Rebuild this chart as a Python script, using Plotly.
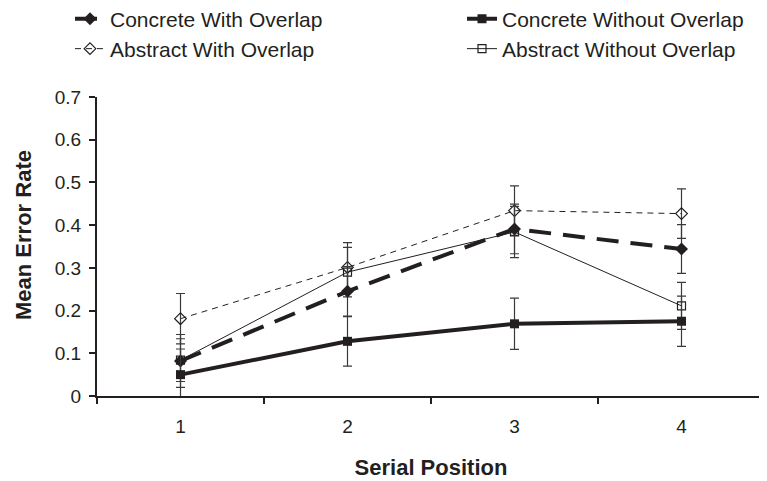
import plotly.graph_objects as go

positions = ["1", "2", "3", "4"]

concrete_with = [0.082, 0.245, 0.391, 0.344]
concrete_with_err = [0.062, 0.058, 0.058, 0.057]

concrete_without = [0.050, 0.128, 0.169, 0.175]
concrete_without_err = [0.060, 0.058, 0.060, 0.059]

abstract_with = [0.181, 0.301, 0.434, 0.427]
abstract_with_err = [0.059, 0.058, 0.058, 0.058]

abstract_without = [0.084, 0.290, 0.384, 0.211]
abstract_without_err = [0.050, 0.058, 0.060, 0.055]

y_ticks = [0, 0.1, 0.2, 0.3, 0.4, 0.5, 0.6, 0.7]

INK = "#231f20"
FONT = "Liberation Sans, Arial, sans-serif"
ERR = dict(type="data", visible=True, color="#3a3a3a", thickness=1.2, width=4.5)

# The page body adds an 8 px offset, so the figure is 8 px smaller than the window.
W, H = 759, 473

fig = go.Figure()

fig.add_trace(go.Scatter(
    x=positions, y=abstract_with, name="Abstract With Overlap", mode="lines+markers",
    line=dict(color=INK, width=1, dash="6px,5px"),
    marker=dict(symbol="diamond-open", size=9, color=INK, line=dict(width=1.2, color=INK)),
    error_y=dict(array=abstract_with_err, **ERR), legend="legend4", showlegend=True))

fig.add_trace(go.Scatter(
    x=positions, y=abstract_without, name="Abstract Without Overlap", mode="lines+markers",
    line=dict(color=INK, width=1),
    marker=dict(symbol="square-open", size=8, color=INK, line=dict(width=1.2, color=INK)),
    error_y=dict(array=abstract_without_err, **ERR), legend="legend5", showlegend=True))

fig.add_trace(go.Scatter(
    x=positions, y=concrete_with, name="Concrete With Overlap", mode="lines+markers",
    line=dict(color=INK, width=4, dash="22px,12px"),
    marker=dict(symbol="diamond", size=10, color=INK),
    error_y=dict(array=concrete_with_err, **ERR), legend="legend2", showlegend=True))

fig.add_trace(go.Scatter(
    x=positions, y=concrete_without, name="Concrete Without Overlap", mode="lines+markers",
    line=dict(color=INK, width=4),
    marker=dict(symbol="square", size=9, color=INK),
    error_y=dict(array=concrete_without_err, **ERR), legend="legend3", showlegend=True))

legend_common = dict(
    orientation="h", xref="container", yref="container", xanchor="left", yanchor="middle",
    font=dict(family=FONT, size=21, color=INK), bgcolor="rgba(0,0,0,0)",
)
col1_x, col2_x = 62 / W, 454 / W
row1_y, row2_y = 1 - 11 / H, 1 - 41 / H

fig.update_layout(
    width=W, height=H, showlegend=True,
    margin=dict(l=89, r=2, t=89, b=85, autoexpand=False),
    paper_bgcolor="white", plot_bgcolor="white",
    font=dict(family=FONT, size=19, color=INK),
    legend2=dict(x=col1_x, y=row1_y, **legend_common),
    legend3=dict(x=col2_x, y=row1_y, **legend_common),
    legend4=dict(x=col1_x, y=row2_y, **legend_common),
    legend5=dict(x=col2_x, y=row2_y, **legend_common),
    xaxis=dict(
        type="category", range=[-0.5, 3.5], tickson="boundaries",
        ticks="outside", ticklen=6, tickwidth=1.5, tickcolor=INK,
        showline=True, linecolor=INK, linewidth=2, showgrid=False, zeroline=False,
        tickfont=dict(size=19), ticklabelstandoff=12,
        title=dict(text="<b>Serial Position</b>", font=dict(size=22), standoff=24),
    ),
    yaxis=dict(
        range=[0, 0.7], tickvals=y_ticks, ticktext=[("0" if v == 0 else f"{v:.1f}") for v in y_ticks],
        ticks="outside", ticklen=6, tickwidth=1.5, tickcolor=INK,
        showline=True, linecolor=INK, linewidth=2, showgrid=False, zeroline=False,
        tickfont=dict(size=19), ticklabelstandoff=4,
    ),
    annotations=[dict(
        text="<b>Mean Error Rate</b>", textangle=-90, showarrow=False,
        xref="paper", yref="paper", x=0, y=(388 - 227) / 299, xanchor="center", yanchor="middle",
        xshift=-74, font=dict(size=22, color=INK, family=FONT),
    )],
)

fig.write_html("out.html")
